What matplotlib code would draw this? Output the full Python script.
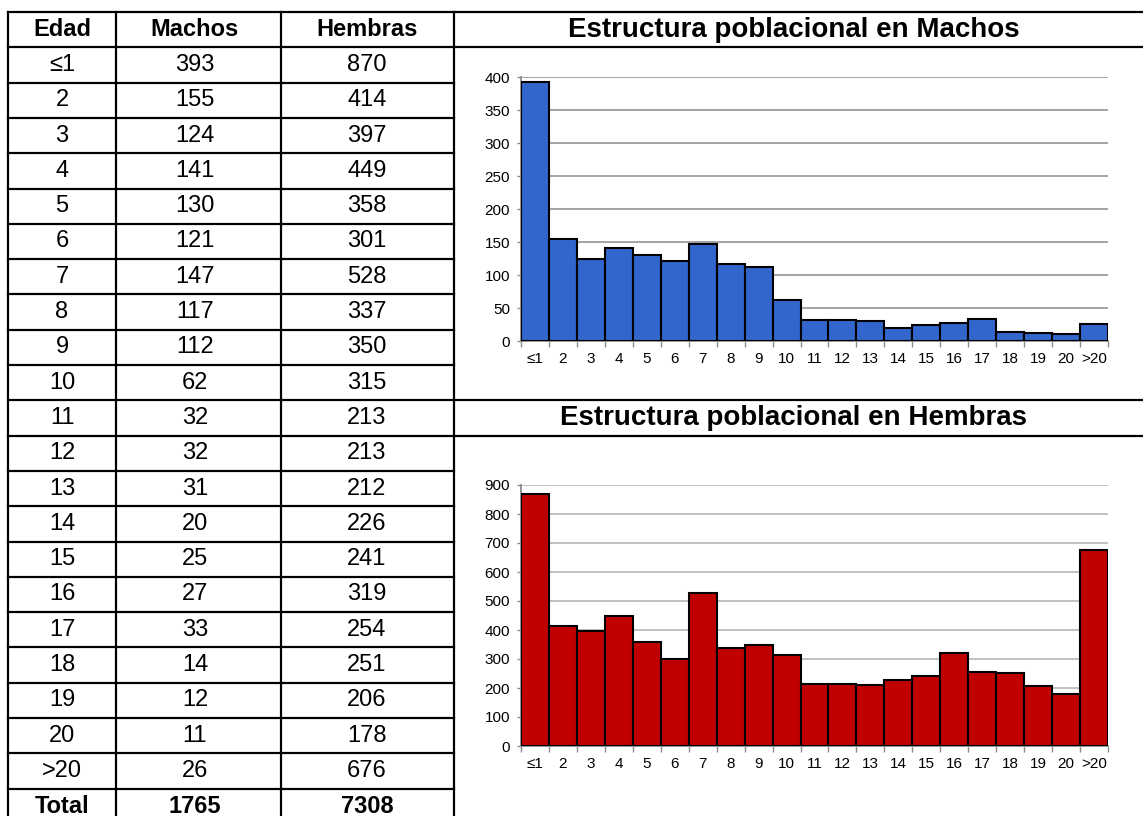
import matplotlib.pyplot as plt
from matplotlib.lines import Line2D
from matplotlib import font_manager

edades = ['≤1', '2', '3', '4', '5', '6', '7', '8', '9', '10', '11', '12', '13',
          '14', '15', '16', '17', '18', '19', '20', '>20']
machos = [393, 155, 124, 141, 130, 121, 147, 117, 112, 62, 32, 32, 31, 20, 25,
          27, 33, 14, 12, 11, 26]
hembras = [870, 414, 397, 449, 358, 301, 528, 337, 350, 315, 213, 213, 212,
           226, 241, 319, 254, 251, 206, 178, 676]
total_machos = 1765
total_hembras = 7308

W, H = 1143, 816
names = {f.name for f in font_manager.fontManager.ttflist}
narrow = 'Liberation Sans Narrow' if 'Liberation Sans Narrow' in names else 'Liberation Sans'
plt.rcParams['font.family'] = ['Liberation Sans', 'DejaVu Sans']

fig = plt.figure(figsize=(W / 100, H / 100), dpi=100)


def fx(x):
    return x / W


def fy(y):
    return 1 - y / H


def hline(x0, x1, y, lw=2.2):
    fig.add_artist(Line2D([fx(x0), fx(x1)], [fy(y), fy(y)], color='black', lw=lw * 0.72))


def vline(x, y0, y1, lw=2.2):
    fig.add_artist(Line2D([fx(x), fx(x)], [fy(y0), fy(y1)], color='black', lw=lw * 0.72))


# tabla
top = 12
rh = 35.3
cols = [8, 116, 281, 454]
centers = [62, 195, 367]
nrows = len(edades) + 2
bottom = top + nrows * rh

for i in range(nrows + 1):
    y = top + i * rh
    if y > H:
        break
    hline(cols[0], cols[3], y)
# lineas de la columna de graficos
hline(cols[3], W, top)
hline(cols[3], W, top + rh)
hline(cols[3], W, top + 11 * rh)
hline(cols[3], W, top + 12 * rh)
for x in cols:
    vline(x, top, min(bottom, H))

fs = 17
header = ['Edad', 'Machos', 'Hembras']
for c, t in zip(centers, header):
    fig.text(fx(c), fy(top + rh / 2), t, ha='center', va='center', fontsize=fs, fontweight='bold')
for i, (e, m, h) in enumerate(zip(edades, machos, hembras)):
    y = fy(top + (i + 1.5) * rh)
    fig.text(fx(centers[0]), y, e, ha='center', va='center', fontsize=fs)
    fig.text(fx(centers[1]), y, str(m), ha='center', va='center', fontsize=fs)
    fig.text(fx(centers[2]), y, str(h), ha='center', va='center', fontsize=fs)
y = fy(top + (len(edades) + 1.5) * rh)
fig.text(fx(centers[0]), y, 'Total', ha='center', va='center', fontsize=fs, fontweight='bold')
fig.text(fx(centers[1]), y, str(total_machos), ha='center', va='center', fontsize=fs, fontweight='bold')
fig.text(fx(centers[2]), y, str(total_hembras), ha='center', va='center', fontsize=fs, fontweight='bold')

fig.text(fx(794), fy(top + rh / 2), 'Estructura poblacional en Machos', ha='center',
         va='center', fontsize=20, fontweight='bold')
fig.text(fx(794), fy(top + 11.5 * rh), 'Estructura poblacional en Hembras', ha='center',
         va='center', fontsize=20, fontweight='bold')


def histo(y_top, y_zero, ymax, step, values, color, grid):
    ax = fig.add_axes([fx(521), fy(y_zero), fx(1108) - fx(521), (y_zero - y_top) / H])
    x = list(range(len(values)))
    ax.bar(x, values, width=1.0, color=color, edgecolor='black', linewidth=1.5, zorder=3)
    ax.set_xlim(-0.5, len(values) - 0.5)
    ax.set_ylim(0, ymax)
    ax.set_yticks(range(0, ymax + 1, step))
    ax.yaxis.grid(True, color=grid, lw=1.1, zorder=0)
    for s in ['top', 'right']:
        ax.spines[s].set_visible(False)
    for s in ['left', 'bottom']:
        ax.spines[s].set_color('#8c8c8c')
        ax.spines[s].set_linewidth(1.3)
    ax.set_xticks(x)
    ax.set_xticks([i - 0.5 for i in range(len(values) + 1)], minor=True)
    ax.set_xticklabels(edades, fontsize=11, family=[narrow, 'DejaVu Sans'])
    ax.tick_params(axis='x', which='major', length=0, pad=8)
    ax.tick_params(axis='x', which='minor', length=4, color='#8c8c8c', width=1)
    ax.tick_params(axis='y', length=3, color='#8c8c8c', width=1, labelsize=11, pad=5)
    return ax


histo(77, 341, 400, 50, machos, '#3366cc', '#8c8c8c')
histo(485, 746, 900, 100, hembras, '#c00000', '#b0b0b0')

plt.savefig('out.png', dpi=100)
